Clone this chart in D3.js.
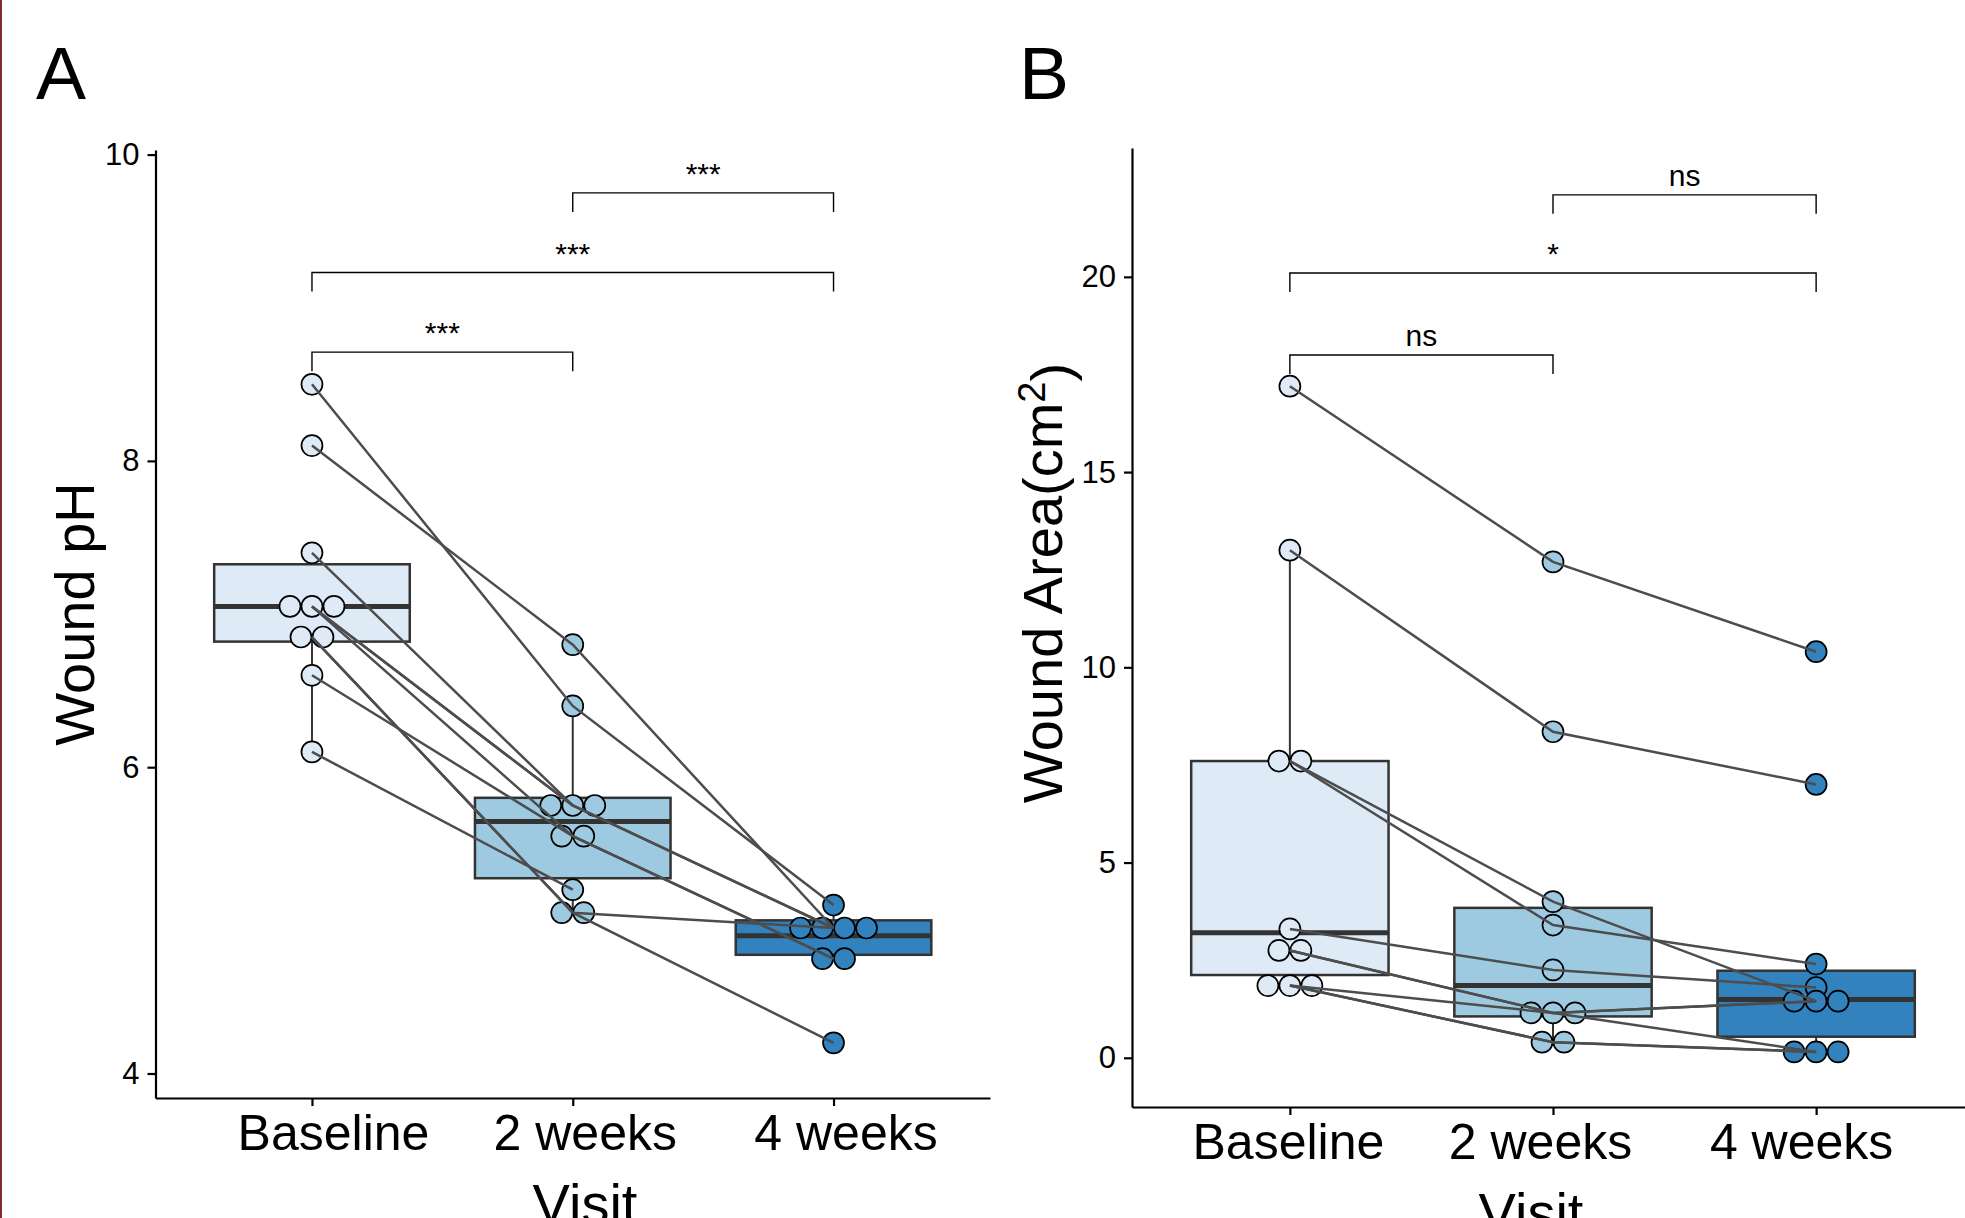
<!DOCTYPE html>
<html>
<head>
<meta charset="utf-8">
<script src="https://cdn.jsdelivr.net/npm/d3@7"></script>
<style>
  body { margin: 0; background: #fff; }
  svg text { font-family: "Liberation Sans", Arial, sans-serif; }
</style>
</head>
<body>
<div id="chart"></div>
<script>
var visits = ["Baseline", "2 weeks", "4 weeks"];
var visitFills = ["#deebf7", "#9ecae1", "#3182bd"];

// Panel A - wound pH, one entry per patient
var phBaseline = [8.5, 8.1, 7.4, 7.05, 7.05, 7.05, 6.85, 6.85, 6.6, 6.1];
var phWeek2    = [6.4, 6.8, 5.75, 5.75, 5.55, 5.75, 5.05, 5.05, 5.55, 5.2];
var phWeek4    = [5.1, 4.95, 4.95, 4.95, 4.75, null, 4.95, 4.2, 4.75, null];
var phQ1     = [6.82, 5.275, 4.775];
var phMedian = [7.05, 5.645, 4.9];
var phQ3     = [7.325, 5.8, 5.0];
var phLow    = [6.1, 5.05, 4.75];
var phHigh   = [7.4, 6.4, 5.1];
var phTicks  = [4, 6, 8, 10];
var phSigLabels = ["***", "***", "***"];
var phSigLevels = [8.71, 9.23, 9.75];

// Panel B - wound area
var areaBaseline = [17.2, 13.0, 7.6, 7.6, 3.3, 2.75, 2.75, 1.85, 1.85, 1.85];
var areaWeek2    = [12.7, 8.35, 4.0, 3.4, 2.25, 1.15, 1.15, 1.15, 0.4, 0.4];
var areaWeek4    = [10.4, 7.0, 1.45, 2.4, 1.8, 1.45, 1.45, 0.15, 0.15, 0.15];
var areaQ1     = [2.12, 1.06, 0.54];
var areaMedian = [3.2, 1.85, 1.49];
var areaQ3     = [7.6, 3.84, 2.23];
var areaLow    = [1.85, 0.4, 0.15];
var areaHigh   = [13.0, 4.0, 2.4];
var areaTicks  = [0, 5, 10, 15, 20];
var areaSigLabels = ["ns", "*", "ns"];
var areaSigLevels = [18.0, 20.1, 22.1];

var sigPairs = [[0, 1], [0, 2], [1, 2]];

var W = 1965, H = 1218;
var svg = d3.select("#chart").append("svg")
  .attr("width", W)
  .attr("height", H);

// thin border at the left edge of the figure
svg.append("line")
  .attr("x1", 1).attr("x2", 1).attr("y1", 0).attr("y2", H)
  .attr("stroke", "#7f2e2e").attr("stroke-width", 2);

function dodge(values, step) {
  var seen = {}, counts = {};
  values.forEach(function(v) { if (v != null) counts[v] = (counts[v] || 0) + 1; });
  return values.map(function(v) {
    if (v == null) return 0;
    var i = seen[v] || 0;
    seen[v] = i + 1;
    return (i - (counts[v] - 1) / 2) * step;
  });
}

function drawPanel(p) {
  var g = svg.append("g");

  var x = d3.scalePoint().domain(visits).range(p.xRange).padding(0.6);
  var y = d3.scaleLinear().domain(p.yDomain).range(p.yRange);
  var boxW = x.step() * 0.75;

  var series = [p.base, p.wk2, p.wk4];

  // boxes
  visits.forEach(function(v, i) {
    var cx = x(v);
    g.append("line")
      .attr("x1", cx).attr("x2", cx)
      .attr("y1", y(p.low[i])).attr("y2", y(p.high[i]))
      .attr("stroke", "#333").attr("stroke-width", 2);
    g.append("rect")
      .attr("x", cx - boxW / 2).attr("width", boxW)
      .attr("y", y(p.q3[i])).attr("height", y(p.q1[i]) - y(p.q3[i]))
      .attr("fill", visitFills[i])
      .attr("stroke", "#333").attr("stroke-width", 2.5);
    g.append("line")
      .attr("x1", cx - boxW / 2).attr("x2", cx + boxW / 2)
      .attr("y1", y(p.median[i])).attr("y2", y(p.median[i]))
      .attr("stroke", "#333").attr("stroke-width", 5);
  });

  // dots
  series.forEach(function(vals, i) {
    var off = dodge(vals, 22);
    g.selectAll(null)
      .data(vals.map(function(d, k) { return {v: d, o: off[k]}; })
        .filter(function(d) { return d.v != null; }))
      .enter()
      .append("circle")
      .attr("cx", function(d) { return x(visits[i]) + d.o; })
      .attr("cy", function(d) { return y(d.v); })
      .attr("r", 10.5)
      .attr("fill", visitFills[i])
      .attr("stroke", "#000")
      .attr("stroke-width", 1.7);
  });

  // paired lines per patient
  var line = d3.line()
    .defined(function(d) { return d[1] != null; })
    .x(function(d) { return x(d[0]); })
    .y(function(d) { return y(d[1]); });
  p.base.forEach(function(b, k) {
    var pts = visits.map(function(v, i) { return [v, series[i][k]]; });
    g.append("path")
      .attr("d", line(pts))
      .attr("fill", "none")
      .attr("stroke", "#4d4d4d")
      .attr("stroke-width", 2.5);
  });

  // significance brackets
  sigPairs.forEach(function(pr, j) {
    var x1 = x(visits[pr[0]]), x2 = x(visits[pr[1]]), yy = y(p.sigLevels[j]);
    g.append("path")
      .attr("d", "M" + x1 + "," + (yy + 19) + "V" + yy + "H" + x2 + "V" + (yy + 19))
      .attr("fill", "none")
      .attr("stroke", "#000")
      .attr("stroke-width", 1.4);
    g.append("text")
      .attr("x", (x1 + x2) / 2)
      .attr("y", yy - 9)
      .attr("text-anchor", "middle")
      .style("font-size", "30px")
      .text(p.sigLabels[j]);
  });

  // axes
  var yAxis = g.append("g")
    .attr("transform", "translate(" + p.xRange[0] + ",0)")
    .call(d3.axisLeft(y).tickValues(p.ticks).tickFormat(d3.format("d"))
      .tickSize(8).tickSizeOuter(0).tickPadding(8));
  yAxis.selectAll("text").style("font-size", "31px").attr("fill", "#000");

  var xAxis = g.append("g")
    .attr("transform", "translate(0," + p.yRange[0] + ")")
    .call(d3.axisBottom(x).tickSize(8).tickSizeOuter(0).tickPadding(8));
  xAxis.selectAll("text")
    .style("font-size", "50px")
    .attr("fill", "#000")
    .attr("dx", function(d, i) { return p.labelShift[i]; });

  g.selectAll(".domain, .tick line").attr("stroke", "#000").attr("stroke-width", 2.2);

  // titles
  g.append("text")
    .attr("x", p.visitX)
    .attr("y", p.yRange[0] + 125)
    .attr("text-anchor", "middle")
    .style("font-size", "56px")
    .text("Visit");

  var yt = g.append("text")
    .attr("transform", "translate(" + p.titleX + "," + p.titleY + ") rotate(-90)")
    .attr("text-anchor", "middle")
    .style("font-size", "56px");
  yt.append("tspan").text(p.title);
  if (p.titleSup) {
    yt.append("tspan").attr("dy", "-0.45em").style("font-size", "38px").text(p.titleSup);
    yt.append("tspan").attr("dy", "0.45em").text(")");
  }

  svg.append("text")
    .attr("x", p.labelX).attr("y", 99)
    .style("font-size", "75px")
    .text(p.label);
}

drawPanel({
  label: "A", labelX: 36,
  xRange: [155.5, 990], yRange: [1098, 150], yDomain: [3.84, 10.03],
  base: phBaseline, wk2: phWeek2, wk4: phWeek4,
  q1: phQ1, median: phMedian, q3: phQ3, low: phLow, high: phHigh,
  ticks: phTicks, sigLabels: phSigLabels, sigLevels: phSigLevels,
  labelShift: [21, 12, 12],
  title: "Wound pH", titleX: 94, titleY: 614, visitX: 585
});

drawPanel({
  label: "B", labelX: 1019,
  xRange: [1132, 1974], yRange: [1107, 148], yDomain: [-1.26, 23.3],
  base: areaBaseline, wk2: areaWeek2, wk4: areaWeek4,
  q1: areaQ1, median: areaMedian, q3: areaQ3, low: areaLow, high: areaHigh,
  ticks: areaTicks, sigLabels: areaSigLabels, sigLevels: areaSigLevels,
  labelShift: [-2, -13, -15],
  title: "Wound Area(cm", titleSup: "2", titleX: 1062, titleY: 583, visitX: 1531
});
</script>
</body>
</html>
